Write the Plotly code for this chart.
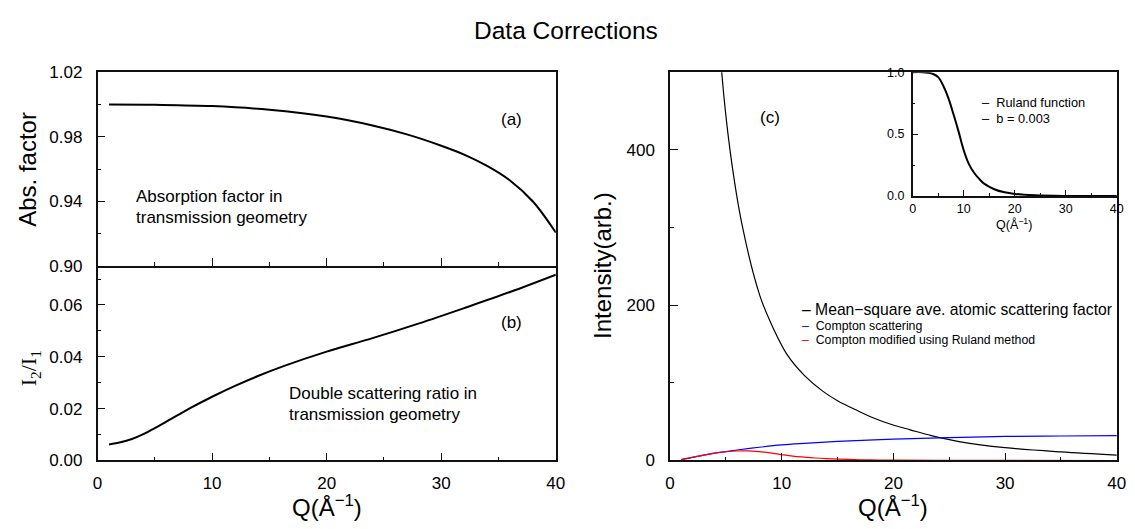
import plotly.graph_objects as go

W, H = 1135, 529

# ---------------- data ----------------
q_abs = [1, 5, 10, 15, 20, 24, 27, 30, 32, 34, 36, 38, 40]
abs_factor = [1.0000, 0.9998, 0.9990, 0.9967, 0.9925, 0.9870, 0.9815, 0.9745, 0.9690,
              0.9620, 0.9530, 0.9400, 0.9208]

q_ds = [1, 2, 3, 4, 5, 6, 7, 8, 10, 12, 14, 16.3, 20, 24, 28, 32, 36, 40]
double_scat = [0.0062, 0.0070, 0.0083, 0.0102, 0.0125, 0.0150, 0.0175, 0.0200, 0.0246,
               0.0288, 0.0326, 0.0365, 0.0420, 0.0472, 0.0528, 0.0588, 0.0650, 0.0717]

q_msf = [3.5, 4, 4.57, 5.37, 6.5, 8.05, 9, 10.5, 12, 13.7, 15, 16.8, 18, 19.9, 21.5,
         23.4, 26, 30, 35, 40]
mean_sq = [810, 650, 510, 400, 300, 212, 178, 136, 110, 89, 77, 64, 56, 46, 39.5,
           32, 24, 16.5, 11, 7]

q_compton = [1, 2, 3, 4, 5, 6, 8, 10, 12, 15, 20, 25, 30, 35, 40]
compton = [1, 4, 7, 9.5, 11.5, 13.5, 17, 20, 22, 24.5, 27.5, 29.5, 31, 31.5, 32]

q_mod = [1, 2, 3, 4, 5, 6, 7, 8, 9, 10, 11, 12, 13, 14, 16, 18, 20, 24, 30, 40]
compton_mod = [1, 4, 7, 9.4, 11.2, 12.2, 12.3, 11.3, 9.8, 7.6, 5.6, 4.3, 3.2, 2.4, 1.3,
               0.75, 0.45, 0.17, 0.03, 0]

q_rul = [0, 2, 3, 4, 5, 6, 7, 8, 9, 10, 11, 12, 13, 14, 16, 18, 20, 24, 30, 40]
ruland = [1, 1, 0.995, 0.985, 0.96, 0.89, 0.79, 0.66, 0.52, 0.37, 0.26, 0.19, 0.14,
          0.10, 0.055, 0.03, 0.017, 0.006, 0.001, 0]

# ---------------- helpers for layout positions ----------------
def fx(x):
    return x / W

def fy(y):
    return 1 - y / H

FONT = "Liberation Sans"
AX_COLOR = "#111111"

fig = go.Figure()
fig.add_trace(go.Scatter(x=q_abs, y=abs_factor, mode="lines", line=dict(color="black", width=2, shape="spline"),
                         xaxis="x", yaxis="y", showlegend=False))
fig.add_trace(go.Scatter(x=q_ds, y=double_scat, mode="lines", line=dict(color="black", width=2, shape="spline"),
                         xaxis="x2", yaxis="y2", showlegend=False))
fig.add_trace(go.Scatter(x=q_msf, y=mean_sq, mode="lines", line=dict(color="black", width=1.2, shape="spline"),
                         xaxis="x3", yaxis="y3", showlegend=False))
fig.add_trace(go.Scatter(x=q_compton, y=compton, mode="lines", line=dict(color="#0000ff", width=1.2, shape="spline"),
                         xaxis="x3", yaxis="y3", showlegend=False))
fig.add_trace(go.Scatter(x=q_mod, y=compton_mod, mode="lines", line=dict(color="#ff0000", width=1.2, shape="spline"),
                         xaxis="x3", yaxis="y3", showlegend=False))
fig.add_trace(go.Scatter(x=q_rul, y=ruland, mode="lines", line=dict(color="black", width=2, shape="spline"),
                         xaxis="x4", yaxis="y4", showlegend=False))


def xax(domain, anchor, labels=True, size=17, tl=8, mtl=4, stand=6, mirror=True, lw=1.5):
    return dict(domain=domain, anchor=anchor, range=[0, 40], tickmode="linear", tick0=0, dtick=10,
                ticks="inside", ticklen=tl, tickwidth=1.2, tickcolor=AX_COLOR,
                minor=dict(dtick=5, tick0=0, ticks="inside", ticklen=mtl, tickwidth=1.2, tickcolor=AX_COLOR),
                showticklabels=labels, tickfont=dict(family=FONT, size=size, color="black"),
                ticklabelstandoff=stand,
                showline=True, linecolor=AX_COLOR, linewidth=lw, mirror=mirror,
                showgrid=False, zeroline=False, fixedrange=True)


def yax(domain, anchor, rng, dtick, mdtick, fmt, size=17, tl=8, mtl=4, stand=10, tick0=0):
    return dict(domain=domain, anchor=anchor, range=rng, tickmode="linear", tick0=tick0, dtick=dtick,
                ticks="inside", ticklen=tl, tickwidth=1.2, tickcolor=AX_COLOR,
                minor=dict(dtick=mdtick, tick0=tick0, ticks="inside", ticklen=mtl, tickwidth=1.2,
                           tickcolor=AX_COLOR),
                tickformat=fmt, tickfont=dict(family=FONT, size=size, color="black"),
                ticklabelstandoff=stand,
                showline=True, linecolor=AX_COLOR, linewidth=1.5, mirror=True,
                showgrid=False, zeroline=False, fixedrange=True)


left_dom = [fx(93.7), fx(557.7)]
right_dom = [fx(673.3), fx(1125.7)]
inset_dom_x = [fx(919), fx(1125.7)]
a_dom = [fy(266.7), fy(65.5)]
b_dom = [fy(468.3), fy(266.7)]
c_dom = [fy(468.3), fy(65.5)]
inset_dom_y = [fy(194), fy(65.5)]

fig.update_layout(
    width=W, height=H, margin=dict(l=0, r=0, t=0, b=0),
    paper_bgcolor="white", plot_bgcolor="white",
    font=dict(family=FONT, color="black"),
    xaxis=xax(left_dom, "y", labels=False, lw=1.8),
    yaxis=yax(a_dom, "x", [0.90, 1.02], 0.04, 0.02, ".2f", tick0=0.90),
    xaxis2=xax(left_dom, "y2", mirror=False),
    yaxis2=yax(b_dom, "x2", [0, 0.075], 0.02, 0.01, ".2f"),
    xaxis3=xax(right_dom, "y3"),
    yaxis3=yax(c_dom, "x3", [0, 500], 200, 100, "d"),
    xaxis4=xax(inset_dom_x, "y4", size=12.5, tl=6, mtl=3, stand=0),
    yaxis4=yax(inset_dom_y, "x4", [0, 1], 0.5, 0.25, ".1f", size=12.5, tl=6, mtl=3, stand=4),
)

ann = []


def add(text, x, y, size, xanchor="center", yanchor="middle", angle=0, family=FONT, align="center"):
    ann.append(dict(text=text, x=fx(x), y=fy(y), xref="paper", yref="paper", showarrow=False,
                    xanchor=xanchor, yanchor=yanchor, textangle=angle, align=align,
                    font=dict(family=family, size=size, color="black")))


add("Data Corrections", 567.5, 22, 24.5)
add("Abs. factor", 22, 166, 24, angle=-90)
add("I<sub>2</sub>/I<sub>1</sub>", 25, 373, 22, angle=-90, family="Liberation Serif")
add("Intensity(arb.)", 605, 266, 24, angle=-90)
add("Q(Å<sup>−1</sup>)", 325.7, 515, 24)
add("Q(Å<sup>−1</sup>)", 899.5, 515, 24)
add("Q(Å<sup>−1</sup>)", 1022, 223, 12.5)
add("(a)", 512.7, 115, 17)
add("(b)", 512.7, 325, 17)
add("(c)", 775, 113, 17)
add("Absorption factor in", 130.7, 194.5, 17, xanchor="left", align="left")
add("transmission geometry", 130.7, 216.5, 17, xanchor="left", align="left")
add("Double scattering ratio in", 286, 398.5, 17, xanchor="left", align="left")
add("transmission geometry", 286, 420.5, 17, xanchor="left", align="left")

NB = "\u00a0"
add("–" + NB + "Mean−square ave. atomic scattering factor", 805, 312, 15.7, xanchor="left", align="left")
add("<span style='color:#0000ff'>–</span>" + NB + NB + "Compton scattering", 805, 328.5, 12.3,
    xanchor="left", align="left")
add("<span style='color:#ff0000'>–</span>" + NB + NB + "Compton modified using Ruland method", 805, 343, 12.3,
    xanchor="left", align="left")
add("–" + NB + NB + "Ruland function", 987, 97.3, 12.8, xanchor="left", align="left")
add("–" + NB + NB + "b = 0.003", 987, 113.3, 12.8, xanchor="left", align="left")

fig.update_layout(annotations=ann)
fig.write_html("out.html")
